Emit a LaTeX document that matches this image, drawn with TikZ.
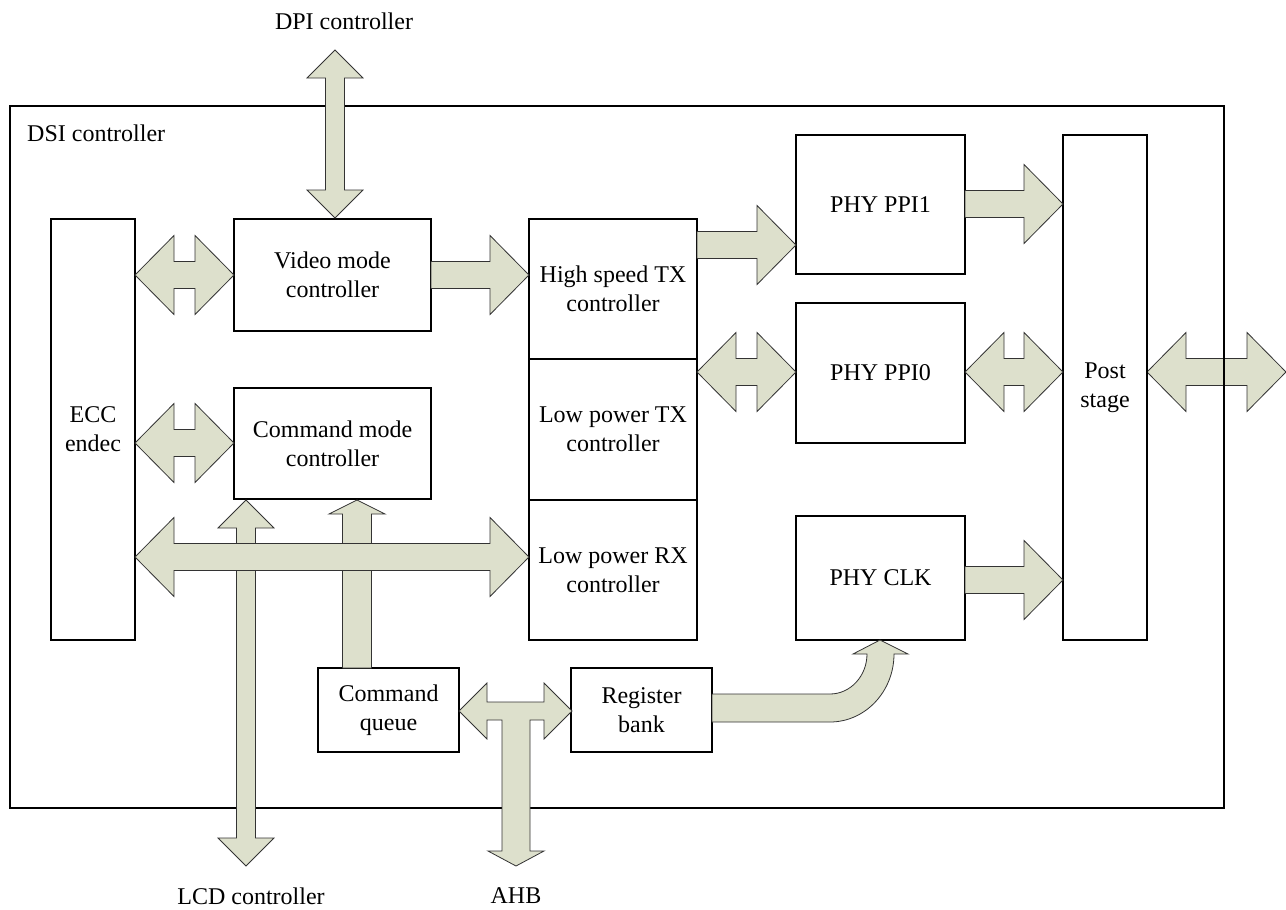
\documentclass[tikz,border=0pt]{standalone}
\usepackage{fontspec}
\setmainfont{Liberation Serif}
\definecolor{arrowfill}{RGB}{221,224,204}
\tikzset{
  box/.style={draw=black, line width=1.2pt, fill=white, inner sep=0pt, align=center, anchor=center},
  arr/.style={fill=arrowfill, draw=black!80, line width=0.8pt, line join=miter},
  lbl/.style={inner sep=0pt, anchor=center}
}
% horizontal double arrow: x1, x2, y, shaft half, head half, head length
\newcommand\hdbl[6]{\filldraw[arr] (#1,#3) -- ({#1+#6},{#3-#5}) -- ({#1+#6},{#3-#4}) -- ({#2-#6},{#3-#4}) -- ({#2-#6},{#3-#5}) -- (#2,#3) -- ({#2-#6},{#3+#5}) -- ({#2-#6},{#3+#4}) -- ({#1+#6},{#3+#4}) -- ({#1+#6},{#3+#5}) -- cycle;}
% horizontal single arrow to the right
\newcommand\hsgl[6]{\filldraw[arr] (#1,{#3-#4}) -- ({#2-#6},{#3-#4}) -- ({#2-#6},{#3-#5}) -- (#2,#3) -- ({#2-#6},{#3+#5}) -- ({#2-#6},{#3+#4}) -- (#1,{#3+#4}) -- cycle;}
% vertical double arrow: x, y1 (top), y2 (bottom), shaft half, head half, head length
\newcommand\vdbl[6]{\filldraw[arr] (#1,#2) -- ({#1+#5},{#2+#6}) -- ({#1+#4},{#2+#6}) -- ({#1+#4},{#3-#6}) -- ({#1+#5},{#3-#6}) -- (#1,#3) -- ({#1-#5},{#3-#6}) -- ({#1-#4},{#3-#6}) -- ({#1-#4},{#2+#6}) -- ({#1-#5},{#2+#6}) -- cycle;}
% vertical single arrow upward: x, tip y, base y
\newcommand\vup[6]{\filldraw[arr] (#1,#2) -- ({#1+#5},{#2+#6}) -- ({#1+#4},{#2+#6}) -- ({#1+#4},#3) -- ({#1-#4},#3) -- ({#1-#4},{#2+#6}) -- ({#1-#5},{#2+#6}) -- cycle;}
\begin{document}
\begin{tikzpicture}[x=1pt, y=-1pt, font=\fontsize{24}{29}\selectfont]
\useasboundingbox (0,0) rectangle (1286,910);

% arrow from post stage to the outside (under the frame line)
\hdbl{1147}{1286}{372}{13.5}{39.5}{39}

% outer frame
\node[box, fill=none, minimum width=1214pt, minimum height=702pt] (dsi) at (617,457) {};
\node[lbl, anchor=west] (dsilbl) at (27,133) {DSI controller};

% blocks
\node[box, minimum width=84pt, minimum height=421pt] (ecc) at (93,429.5) {ECC\\endec};
\node[box, minimum width=197pt, minimum height=112pt] (video) at (332.5,275) {Video mode\\controller};
\node[box, minimum width=197pt, minimum height=111pt] (cmd) at (332.5,443.5) {Command mode\\controller};
\node[box, minimum width=168pt, minimum height=140pt] (hstx) at (613,289) {High speed TX\\controller};
\node[box, minimum width=168pt, minimum height=141pt] (lptx) at (613,429.5) {Low power TX\\controller};
\node[box, minimum width=168pt, minimum height=140pt] (lprx) at (613,570) {Low power RX\\controller};
\node[box, minimum width=169pt, minimum height=139pt] (ppi1) at (880.5,204.5) {PHY PPI1};
\node[box, minimum width=169pt, minimum height=140pt] (ppi0) at (880.5,373) {PHY PPI0};
\node[box, minimum width=169pt, minimum height=124pt] (clk) at (880.5,578) {PHY CLK};
\node[box, minimum width=84pt, minimum height=505pt] (post) at (1105,387.5) {Post\\stage};
\node[box, minimum width=141pt, minimum height=84pt] (cq) at (388.5,710) {Command\\queue};
\node[box, minimum width=141pt, minimum height=84pt] (rb) at (641.5,710) {Register\\bank};

% outside labels
\node[lbl] (dpi) at (344,21) {DPI controller};
\node[lbl] (lcd) at (251,896) {LCD controller};
\node[lbl] (ahb) at (516,896) {AHB};

% vertical arrows behind the bus
\vdbl{246}{500}{866}{9.5}{28}{28}
\vup{357}{500}{668}{14.5}{28}{14}

% bus
\hdbl{135}{529}{557}{13.5}{39.5}{39}

% DPI arrow
\vdbl{335}{50}{218}{9.5}{28}{28}

% ECC links
\hdbl{135}{234}{275}{13.5}{39.5}{39}
\hdbl{135}{234}{443}{13.5}{39.5}{39}

% data path
\hsgl{431}{529}{275}{13.5}{39.5}{39}
\hsgl{697}{796}{245}{13.5}{39.5}{39}
\hdbl{697}{796}{372}{13.5}{39.5}{39}
\hsgl{965}{1063}{204}{13.5}{39.5}{39}
\hdbl{965}{1063}{372}{13.5}{39.5}{39}
\hsgl{965}{1063}{580}{13.5}{39.5}{39}

% AHB T arrow
\filldraw[arr] (459,711) -- (487,683) -- (487,702) -- (544,702) -- (544,683) -- (572,711)
  -- (544,739) -- (544,720) -- (530,720) -- (530,851) -- (544,851) -- (516,866)
  -- (488,851) -- (502,851) -- (502,720) -- (487,720) -- (487,739) -- cycle;

% register bank to PHY CLK curved arrow
\filldraw[arr] (712,694) -- (830,694) .. controls (850.4,694) and (867,676) .. (867,654)
  -- (853,654) -- (880,640) -- (908,654) -- (894,654)
  .. controls (894,691.5) and (865.3,722) .. (830,722) -- (712,722) -- cycle;
\end{tikzpicture}
\end{document}
